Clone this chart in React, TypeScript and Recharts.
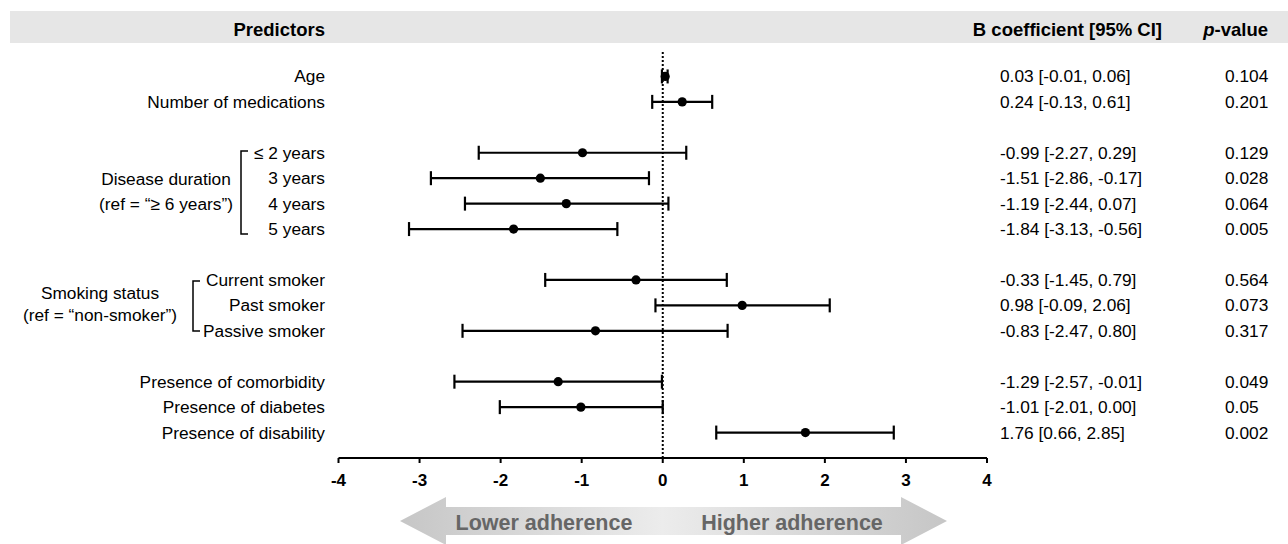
import { ComposedChart, Scatter, ErrorBar, XAxis, YAxis, ReferenceLine } from 'recharts'

const LABELS = [
  'Age',
  'Number of medications',
  '≤ 2 years',
  '3 years',
  '4 years',
  '5 years',
  'Current smoker',
  'Past smoker',
  'Passive smoker',
  'Presence of comorbidity',
  'Presence of diabetes',
  'Presence of disability',
]
// row slot of each predictor (empty slots are the gaps between groups)
const ROWS = [0, 1, 3, 4, 5, 6, 8, 9, 10, 12, 13, 14]
const B = [0.03, 0.24, -0.99, -1.51, -1.19, -1.84, -0.33, 0.98, -0.83, -1.29, -1.01, 1.76]
const LO = [-0.01, -0.13, -2.27, -2.86, -2.44, -3.13, -1.45, -0.09, -2.47, -2.57, -2.01, 0.66]
const HI = [0.06, 0.61, 0.29, -0.17, 0.07, -0.56, 0.79, 2.06, 0.8, -0.01, 0.0, 2.85]
const P_VALUES = ['0.104', '0.201', '0.129', '0.028', '0.064', '0.005', '0.564', '0.073', '0.317', '0.049', '0.05', '0.002']
const X_TICKS = [-4, -3, -2, -1, 0, 1, 2, 3, 4]

const FONT = '"Liberation Sans", Arial, sans-serif'
const FS = 17.3

const data = B.map((b, i) => ({
  b,
  row: ROWS[i],
  err: [b - LO[i], HI[i] - b],
}))

const fmt = (i: number) => `${B[i].toFixed(2)} [${LO[i].toFixed(2)}, ${HI[i].toFixed(2)}]`

function RowTick(props: any) {
  const { y, payload } = props
  const i = ROWS.indexOf(payload.value)
  if (i < 0) return null
  const common = { y, fontSize: FS, fontFamily: FONT, fill: '#000', dominantBaseline: 'central' as const }
  return (
    <g>
      <text x={325} textAnchor="end" {...common}>{LABELS[i]}</text>
      <text x={1000} textAnchor="start" {...common}>{fmt(i)}</text>
      <text x={1225} textAnchor="start" {...common}>{P_VALUES[i]}</text>
    </g>
  )
}

const Dot = (props: any) => <circle cx={props.cx} cy={props.cy} r={4.6} fill="#000" />

function Overlay() {
  const txt = { fontFamily: FONT, fontSize: FS, fill: '#000' }
  const head = { fontFamily: FONT, fontSize: 18.5, fontWeight: 700, fill: '#000', dominantBaseline: 'central' as const }
  const arrowTxt = { fontFamily: FONT, fontSize: 21.5, fontWeight: 700, fill: '#666', dominantBaseline: 'central' as const }
  return (
    <svg width={1288} height={544} style={{ position: 'absolute', left: 0, top: 0 }}>
      <defs>
        <linearGradient id="gl" x1="0" x2="1" y1="0" y2="0">
          <stop offset="0" stopColor="#c6c6c6" />
          <stop offset="1" stopColor="#ececec" />
        </linearGradient>
        <linearGradient id="gr" x1="0" x2="1" y1="0" y2="0">
          <stop offset="0" stopColor="#ececec" />
          <stop offset="1" stopColor="#c6c6c6" />
        </linearGradient>
      </defs>
      <rect x={10} y={11} width={1278} height={32} fill="#e6e6e6" />
      <text x={325} y={29} textAnchor="end" {...head}>Predictors</text>
      <text x={1162} y={29} textAnchor="end" {...head}>B coefficient [95% CI]</text>
      <text x={1268} y={29} textAnchor="end" {...head}>
        <tspan fontStyle="italic">p</tspan>-value
      </text>

      <path d="M248 151 H241 V234 H248" fill="none" stroke="#000" strokeWidth={1.5} />
      <text x={166} y={179} textAnchor="middle" dominantBaseline="central" {...txt}>Disease duration</text>
      <text x={166} y={204} textAnchor="middle" dominantBaseline="central" {...txt}>(ref = “≥ 6 years”)</text>

      <path d="M200 281 H193 V331 H200" fill="none" stroke="#000" strokeWidth={1.5} />
      <text x={100} y={293} textAnchor="middle" dominantBaseline="central" {...txt}>Smoking status</text>
      <text x={100} y={315} textAnchor="middle" dominantBaseline="central" {...txt}>(ref = “non-smoker”)</text>

      <path d="M662 507 H446 V497 L400 521 L446 545 V535 H662 Z" fill="url(#gl)" />
      <path d="M662 507 H901 V497 L947 521 L901 545 V535 H662 Z" fill="url(#gr)" />
      <text x={544} y={523} textAnchor="middle" {...arrowTxt}>Lower adherence</text>
      <text x={792} y={523} textAnchor="middle" {...arrowTxt}>Higher adherence</text>
    </svg>
  )
}

export default function App() {
  return (
    <div style={{ position: 'absolute', left: 0, top: 0, width: 1288, height: 544, background: '#fff' }}>
      <Overlay />
      <div style={{ position: 'absolute', left: 0, top: 0 }}>
        <ComposedChart width={1288} height={544} data={data} margin={{ top: 51, right: 301, bottom: 56, left: 0 }}>
          <XAxis
            type="number"
            dataKey="b"
            domain={[-4, 4]}
            ticks={X_TICKS}
            interval={0}
            height={30}
            axisLine={{ stroke: '#000', strokeWidth: 2 }}
            tickLine={{ stroke: '#000', strokeWidth: 2 }}
            tickSize={5}
            tickMargin={11}
            tick={{ fontSize: 17, fontWeight: 700, fill: '#000', fontFamily: FONT }}
          />
          <YAxis
            type="number"
            dataKey="row"
            domain={[-1, 15]}
            reversed
            ticks={ROWS}
            interval={0}
            width={338.5}
            axisLine={false}
            tickLine={false}
            tick={<RowTick />}
          />
          <ReferenceLine x={0} stroke="#000" strokeWidth={2} strokeDasharray="2 2" />
          <Scatter dataKey="row" shape={<Dot />} isAnimationActive={false}>
            <ErrorBar dataKey="err" direction="x" width={7} strokeWidth={2.2} stroke="#000" />
          </Scatter>
        </ComposedChart>
      </div>
    </div>
  )
}
